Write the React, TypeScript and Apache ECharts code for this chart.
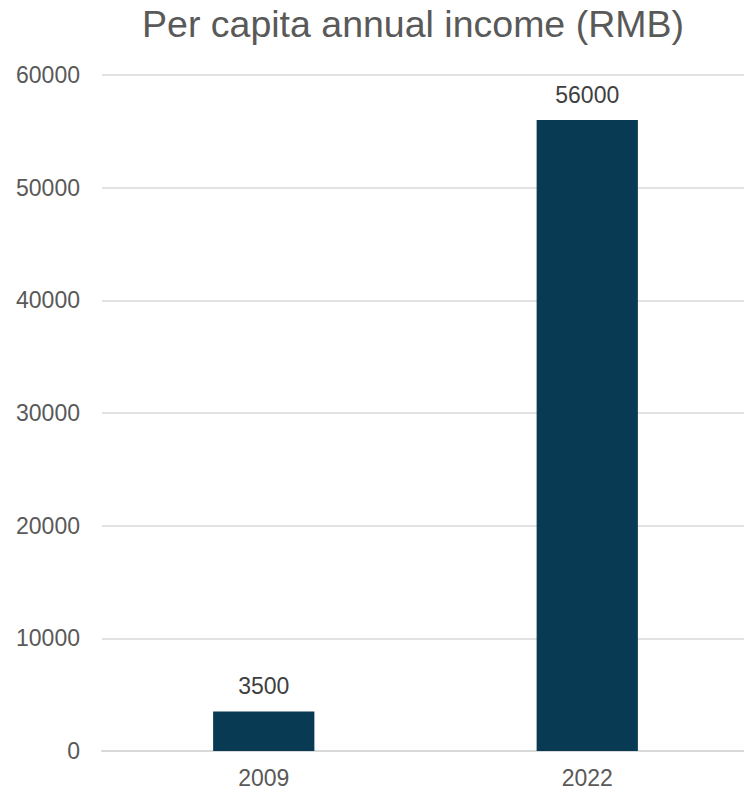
import React, { useEffect, useRef } from "react";
import * as echarts from "echarts";

const categories = ["2009", "2022"];
const incomeValues = [3500, 56000];
const yTicks = [0, 10000, 20000, 30000, 40000, 50000, 60000];
const titleText = "Per capita annual income (RMB)";

export default function App() {
  const ref = useRef<HTMLDivElement>(null);
  useEffect(() => {
    if (!ref.current) return;
    const chart = echarts.init(ref.current, null, { renderer: "svg" });
    const font = "'Liberation Sans', Arial, sans-serif";
    chart.setOption({
      animation: false,
      backgroundColor: "#ffffff",
      title: {
        text: titleText,
        left: 408,
        textAlign: "center",
        top: 0,
        textStyle: { fontFamily: font, fontSize: 37.5, fontWeight: "normal", color: "#595959" },
      },
      grid: {
        left: 102,
        top: 75,
        width: 647,
        bottom: 41,
        containLabel: false,
        outerBoundsMode: "none",
      },
      xAxis: {
        type: "category",
        data: categories,
        axisLine: { show: true, lineStyle: { color: "#d9d9d9", width: 2 } },
        axisTick: { show: false },
        axisLabel: { fontFamily: font, fontSize: 23, color: "#595959", margin: 15 },
      },
      yAxis: {
        type: "value",
        min: yTicks[0],
        max: yTicks[yTicks.length - 1],
        interval: 10000,
        axisLine: { show: false },
        axisTick: { show: false },
        splitLine: { lineStyle: { color: "#d9d9d9", width: 1.5 } },
        axisLabel: {
          fontFamily: font,
          fontSize: 23,
          color: "#595959",
          margin: 22,
          formatter: (v: number) => String(v),
        },
      },
      series: [
        {
          type: "bar",
          data: incomeValues,
          barWidth: "31.3%",
          itemStyle: { color: "#083B53" },
          label: {
            show: true,
            position: "top",
            distance: 14,
            fontFamily: font,
            fontSize: 23,
            color: "#404040",
          },
        },
      ],
    });
    return () => chart.dispose();
  }, []);
  return (
    <div
      ref={ref}
      style={{ position: "fixed", left: 0, top: 0, width: 744, height: 792 }}
    />
  );
}
